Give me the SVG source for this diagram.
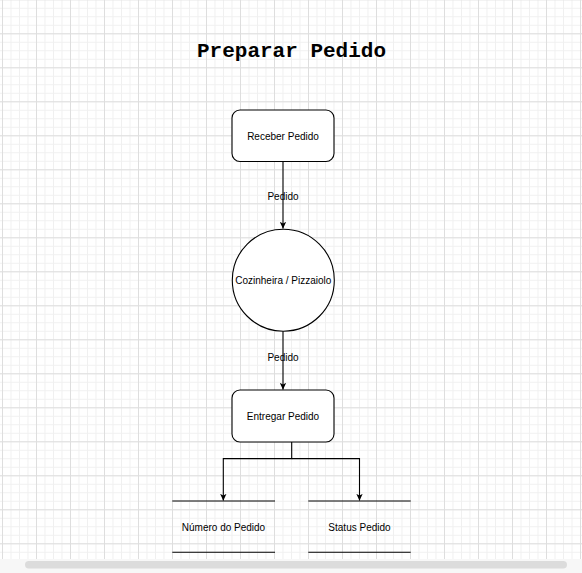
<svg xmlns="http://www.w3.org/2000/svg" width="582" height="573" viewBox="0 0 582 573">
<style>
.lbl{font-family:"Liberation Sans",Arial,sans-serif;font-size:10px;fill:#000;text-anchor:middle;dominant-baseline:central}
.title{font-family:"Liberation Mono","Courier New",monospace;font-size:21px;font-weight:bold;fill:#000;text-anchor:middle}
.shape{fill:#fff;stroke:#000;stroke-width:1.1}
.edge{fill:none;stroke:#000;stroke-width:1.1}
.store{stroke:#000;stroke-width:1.1}
</style>
<defs>
<pattern id="minor" patternUnits="userSpaceOnUse" x="2" y="-0.7" width="8.5" height="8.5">
<path d="M0.5 0V8.5M0 0.5H8.5" stroke="#f0f0f0" stroke-width="1" fill="none"/>
</pattern>
<pattern id="major" patternUnits="userSpaceOnUse" x="2" y="-0.7" width="34" height="34">
<path d="M0.5 0V34M0 0.5H34" stroke="#dedede" stroke-width="1" fill="none"/>
</pattern>
<marker id="arr" viewBox="0 0 10 10" refX="9.5" refY="5" markerWidth="7" markerHeight="7" markerUnits="userSpaceOnUse" orient="auto">
<path d="M0 0.5L10 5L0 9.5L2.5 5Z" fill="#000"/>
</marker>
</defs>
<rect x="0" y="0" width="582" height="573" fill="#fff"/>
<rect x="0" y="0" width="582" height="559" fill="url(#minor)"/>
<rect x="0" y="0" width="582" height="559" fill="url(#major)"/>
<rect x="0" y="559" width="582" height="14" fill="#f7f7f7"/>
<rect x="25" y="561" width="542" height="7.5" rx="3.7" fill="#dcdcdc"/>

<text class="title" x="291.5" y="56.5">Preparar Pedido</text>

<g id="edges">
<path class="edge" d="M283 161.5V228.5" marker-end="url(#arr)"/>
<text class="lbl" x="283" y="196">Pedido</text>
<path class="edge" d="M283 331V389.5" marker-end="url(#arr)"/>
<text class="lbl" x="283" y="357">Pedido</text>
<path class="edge" d="M291.7 442V458.6H223.3V500.5" marker-end="url(#arr)"/>
<path class="edge" d="M291.7 458.6H359.5V500.5" marker-end="url(#arr)"/>
</g>

<g id="receber">
<rect class="shape" x="232" y="110" width="102" height="51.5" rx="8"/>
<text class="lbl" x="283" y="136">Receber Pedido</text>
</g>
<g id="cozinheira">
<circle class="shape" cx="283.3" cy="280.2" r="51"/>
<text class="lbl" x="283.3" y="280.5">Cozinheira / Pizzaiolo</text>
</g>
<g id="entregar">
<rect class="shape" x="232" y="390" width="102" height="52" rx="8"/>
<text class="lbl" x="283" y="416">Entregar Pedido</text>
</g>
<g id="numero">
<path class="store" d="M172.3 501H275M172.3 552.3H275"/>
<text class="lbl" x="223.5" y="527">Número do Pedido</text>
</g>
<g id="status">
<path class="store" d="M308.3 501H410.7M308.3 552.3H410.7"/>
<text class="lbl" x="359.5" y="527">Status Pedido</text>
</g>
</svg>
